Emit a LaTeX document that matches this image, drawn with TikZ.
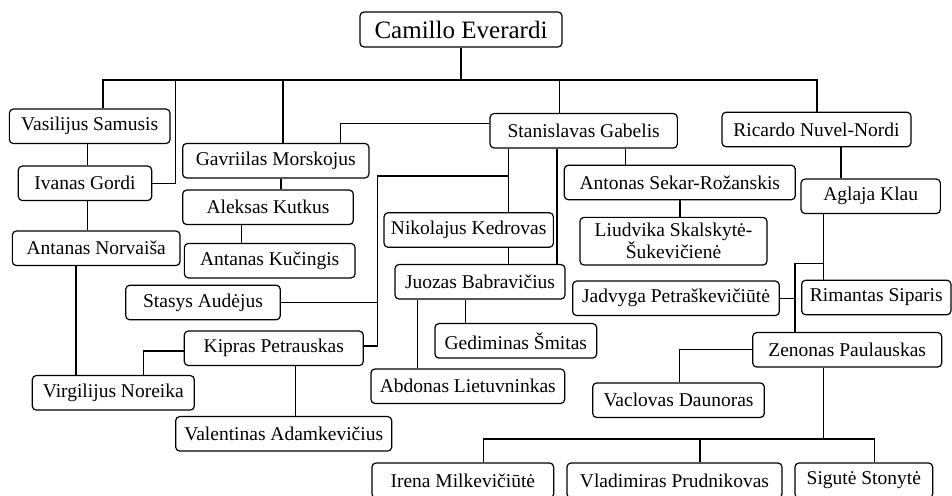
\documentclass[tikz,border=0pt]{standalone}
\usepackage{fontspec}
\setmainfont{Liberation Serif}
\begin{document}
\begin{tikzpicture}[x=1pt,y=-1pt,
  box/.style={draw, rounded corners=4pt, line width=1.2pt, fill=white, inner sep=0pt,
    minimum height=34.5pt, align=center, font=\fontsize{19.5}{18.5}\selectfont},
  conn/.style={line width=1.2pt, line join=miter}]
\clip (0,0) rectangle (952,495);
% nodes
\node[box, minimum width=202pt, minimum height=35pt, font=\fontsize{25}{27}\selectfont] (cam) at (461,29.5) {Camillo Everardi};
\node[box, minimum width=160.7pt] (vas) at (89.7,126.3) {Vasilijus Samusis};
\node[box, minimum width=133.4pt] (iva) at (85,183.3) {Ivanas Gordi};
\node[box, minimum width=167.7pt] (nor) at (96.2,248.3) {Antanas Norvaiša};
\node[box, minimum width=186.3pt] (gav) at (275.8,160.7) {Gavriilas Morskojus};
\node[box, minimum width=170.6pt] (ale) at (268,207.3) {Aleksas Kutkus};
\node[box, minimum width=170.7pt] (kuc) at (269.7,260.7) {Antanas Kučingis};
\node[box, minimum width=187.3pt] (sta) at (583.7,130.8) {Stanislavas Gabelis};
\node[box, minimum width=231pt] (ant) at (679.8,182.5) {Antonas Sekar-Rožanskis};
\node[box, minimum width=187pt, minimum height=47.7pt] (liu) at (673.5,241.2) {Liudvika Skalskytė-\\Šukevičienė};
\node[box, minimum width=189pt] (ric) at (816.5,129.5) {Ricardo Nuvel-Nordi};
\node[box, minimum width=139.3pt] (agl) at (870.7,196.3) {Aglaja Klau};
\node[box, minimum width=149.3pt] (rim) at (876.3,297.5) {Rimantas Siparis};
\node[box, minimum width=206.6pt] (jad) at (676,298.3) {Jadvyga Petraškevičiūtė};
\node[box, minimum width=189pt] (zen) at (847.2,349.8) {Zenonas Paulauskas};
\node[box, minimum width=171.6pt] (vac) at (678.5,400.2) {Vaclovas Daunoras};
\node[box, minimum width=181.7pt, minimum height=35pt] (iri) at (462.8,480.5) {Irena Milkevičiūtė};
\node[box, minimum width=215pt, minimum height=35pt] (vla) at (674.5,480.5) {Vladimiras Prudnikovas};
\node[box, minimum width=137.7pt, minimum height=35pt] (sig) at (863.8,480.5) {Sigutė Stonytė};
\node[box, minimum width=169.3pt] (nik) at (468.7,230) {Nikolajus Kedrovas};
\node[box, minimum width=170pt] (juo) at (480,281.8) {Juozas Babravičius};
\node[box, minimum width=161.7pt] (ged) at (515.8,340.8) {Gediminas Šmitas};
\node[box, minimum width=193.7pt] (abd) at (467.8,386.2) {Abdonas Lietuvninkas};
\node[box, minimum width=154.6pt] (stas) at (203,302.5) {Stasys Audėjus};
\node[box, minimum width=179pt] (kip) at (273.8,348.3) {Kipras Petrauskas};
\node[box, minimum width=162pt] (vir) at (113.3,392.8) {Virgilijus Noreika};
\node[box, minimum width=216pt] (val) at (283.7,433.8) {Valentinas Adamkevičius};
% top bus
\coordinate (bL) at (103,80);
\coordinate (bR) at (817,80);
\coordinate (b2) at (175.7,80);
\coordinate (b3) at (283,80);
\coordinate (b4) at (559.7,80);
\draw[conn] (cam.south) -- (cam.south |- bL);
\draw[conn] (bL |- vas.north) -- (bL) -- (bR) -- (bR |- ric.north);
\draw[conn] (b2) |- (iva.east);
\draw[conn] (b3) -- (b3 |- gav.north);
\draw[conn] (b4) -- (b4 |- sta.north);
% left column
\coordinate (xL1) at (87.3,0);
\coordinate (xL2) at (76,0);
\coordinate (xG) at (281,0);
\coordinate (xA) at (241.7,0);
\draw[conn] (xL1 |- vas.south) -- (xL1 |- iva.north);
\draw[conn] (xL1 |- iva.south) -- (xL1 |- nor.north);
\draw[conn] (xL2 |- nor.south) -- (xL2 |- vir.north);
\draw[conn] (xG |- gav.south) -- (xG |- ale.north);
\draw[conn] (xA |- ale.south) -- (xA |- kuc.north);
% Stanislavas
\coordinate (sg) at (340.3,123.7);
\draw[conn] (sta.west |- sg) -- (sg) -- (sg |- gav.north);
\coordinate (xs1) at (508.3,176);
\coordinate (xs2) at (377.7,176);
\coordinate (kp) at (377.7,346);
\draw[conn] (xs1 |- sta.south) -- (xs1 |- nik.north);
\draw[conn] (xs1) -- (xs2) -- (kp) -- (kp -| kip.east);
\draw[conn] (stas.east) -- (xs2 |- stas.east);
\draw[conn] (xs1 |- nik.south) -- (xs1 |- juo.north);
\coordinate (xs3) at (557,0);
\coordinate (xs4) at (625.3,0);
\draw[conn] (xs3 |- sta.south) -- (xs3 |- juo.north);
\draw[conn] (xs4 |- sta.south) -- (xs4 |- ant.north);
\coordinate (xj1) at (465.7,0);
\coordinate (xj2) at (417.7,0);
\draw[conn] (xj1 |- juo.south) -- (xj1 |- ged.north);
\draw[conn] (xj2 |- juo.south) -- (xj2 |- abd.north);
\coordinate (xa) at (680,0);
\draw[conn] (xa |- ant.south) -- (xa |- liu.north);
% Kipras
\coordinate (kv) at (143.7,351);
\draw[conn] (kip.west |- kv) -- (kv) -- (kv |- vir.north);
\coordinate (xk) at (295.7,0);
\draw[conn] (xk |- kip.south) -- (xk |- val.north);
% Ricardo
\coordinate (xr) at (841,0);
\draw[conn] (xr |- ric.south) -- (xr |- agl.north);
\coordinate (xg) at (823.3,263.3);
\coordinate (xg2) at (795,263.3);
\draw[conn] (xg |- agl.south) -- (xg |- rim.north);
\draw[conn] (xg) -- (xg2) -- (xg2 |- zen.north);
\draw[conn] (jad.east) -- (xg2 |- jad.east);
\coordinate (zv) at (679.7,0);
\draw[conn] (zen.west) -| (zv |- vac.north);
\coordinate (zb) at (823.7,439);
\coordinate (zbl) at (483.3,439);
\coordinate (zbr) at (874.3,439);
\coordinate (zbm) at (700,439);
\draw[conn] (zb |- zen.south) -- (zb);
\draw[conn] (zbl |- iri.north) -- (zbl) -- (zbr) -- (zbr |- sig.north);
\draw[conn] (zbm) -- (zbm |- vla.north);
\end{tikzpicture}
\end{document}
